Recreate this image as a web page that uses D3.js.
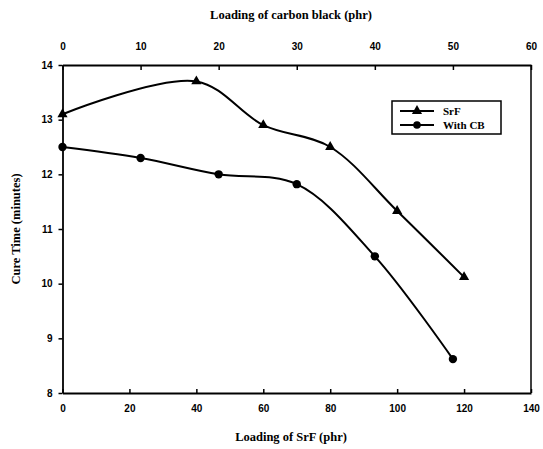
<!DOCTYPE html>
<html><head><meta charset="utf-8">
<script src="https://cdn.jsdelivr.net/npm/d3@7"></script>
<style>body{margin:0;background:#fff}</style>
</head><body>
<svg id="c" width="543" height="449"></svg>
<script>
const srfLoading = [0, 40, 60, 80, 100, 120];
const srfCure = [13.1, 13.7, 12.9, 12.5, 11.33, 10.12];
const cbLoading = [0, 10, 20, 30, 40, 50];
const cbCure = [12.5, 12.3, 12.0, 11.82, 10.5, 8.62];
const bottomTicks = [0, 20, 40, 60, 80, 100, 120, 140];
const topTicks = [0, 10, 20, 30, 40, 50, 60];
const yTicks = [8, 9, 10, 11, 12, 13, 14];

const svg = d3.select("#c");
const L = 62.5, R = 531, T = 65, B = 393;
const x = d3.scaleLinear().domain([0, 140]).range([L, R]);
const xTop = d3.scaleLinear().domain([0, 60]).range([L, R]);
const y = d3.scaleLinear().domain([8, 14]).range([B, T]);

const tickFont = "bold 10px 'Liberation Sans', Arial, sans-serif";
const titleFont = "bold 12.5px 'Liberation Serif', 'Times New Roman', serif";

svg.append("line").attr("x1", R).attr("x2", R).attr("y1", T).attr("y2", B)
  .attr("stroke", "#000").attr("stroke-width", 1.5);

const gB = svg.append("g").attr("transform", `translate(0,${B})`)
  .call(d3.axisBottom(x).tickValues(bottomTicks).tickSizeInner(-4).tickSizeOuter(0).tickPadding(12));
const gT = svg.append("g").attr("transform", `translate(0,${T})`)
  .call(d3.axisTop(xTop).tickValues(topTicks).tickSizeInner(-5).tickSizeOuter(0).tickPadding(15));
const gL = svg.append("g").attr("transform", `translate(${L},0)`)
  .call(d3.axisLeft(y).tickValues(yTicks).tickFormat(d3.format("d")).tickSizeInner(4).tickSizeOuter(0).tickPadding(6));
[gB, gT, gL].forEach(g => {
  g.selectAll("path").attr("stroke", "#000").attr("stroke-width", 1.8);
  g.selectAll("line").attr("stroke", "#000").attr("stroke-width", 1.5);
  g.selectAll("text").style("font", tickFont).attr("fill", "#000");
});

svg.append("text").attr("x", 291).attr("y", 19).attr("text-anchor", "middle")
  .style("font", titleFont).text("Loading of carbon black (phr)");
svg.append("text").attr("x", 291).attr("y", 441).attr("text-anchor", "middle")
  .style("font", titleFont).text("Loading of SrF (phr)");
svg.append("text").attr("transform", "translate(20,229) rotate(-90)").attr("text-anchor", "middle")
  .style("font", titleFont).text("Cure Time (minutes)");

const curve = d3.curveCatmullRom.alpha(0.5);
const srfPts = srfLoading.map((v, i) => [x(v), y(srfCure[i])]);
const cbPts = cbLoading.map((v, i) => [xTop(v), y(cbCure[i])]);
const line = d3.line().curve(curve);
svg.append("path").attr("d", line(srfPts)).attr("fill", "none").attr("stroke", "#000").attr("stroke-width", 2);
svg.append("path").attr("d", line(cbPts)).attr("fill", "none").attr("stroke", "#000").attr("stroke-width", 2);

const tri = d3.symbol().type(d3.symbolTriangle).size(45);
svg.selectAll(".tri").data(srfPts).enter().append("path")
  .attr("d", tri).attr("transform", d => `translate(${d[0]},${d[1]})`).attr("fill", "#000");
svg.selectAll(".dot").data(cbPts).enter().append("circle")
  .attr("cx", d => d[0]).attr("cy", d => d[1]).attr("r", 4.2).attr("fill", "#000");

const lg = svg.append("g");
lg.append("rect").attr("x", 392).attr("y", 101).attr("width", 109).attr("height", 33)
  .attr("fill", "#fff").attr("stroke", "#000").attr("stroke-width", 1.5);
const legendFont = "bold 11px 'Liberation Serif', 'Times New Roman', serif";
lg.append("line").attr("x1", 400).attr("x2", 434).attr("y1", 111).attr("y2", 111).attr("stroke", "#000").attr("stroke-width", 2);
lg.append("path").attr("d", tri).attr("transform", "translate(417,111)").attr("fill", "#000");
lg.append("text").attr("x", 443).attr("y", 115).style("font", legendFont).text("SrF");
lg.append("line").attr("x1", 400).attr("x2", 434).attr("y1", 125).attr("y2", 125).attr("stroke", "#000").attr("stroke-width", 2);
lg.append("circle").attr("cx", 417).attr("cy", 125).attr("r", 3.8).attr("fill", "#000");
lg.append("text").attr("x", 443).attr("y", 129).style("font", legendFont).text("With CB");
</script>
</body></html>
